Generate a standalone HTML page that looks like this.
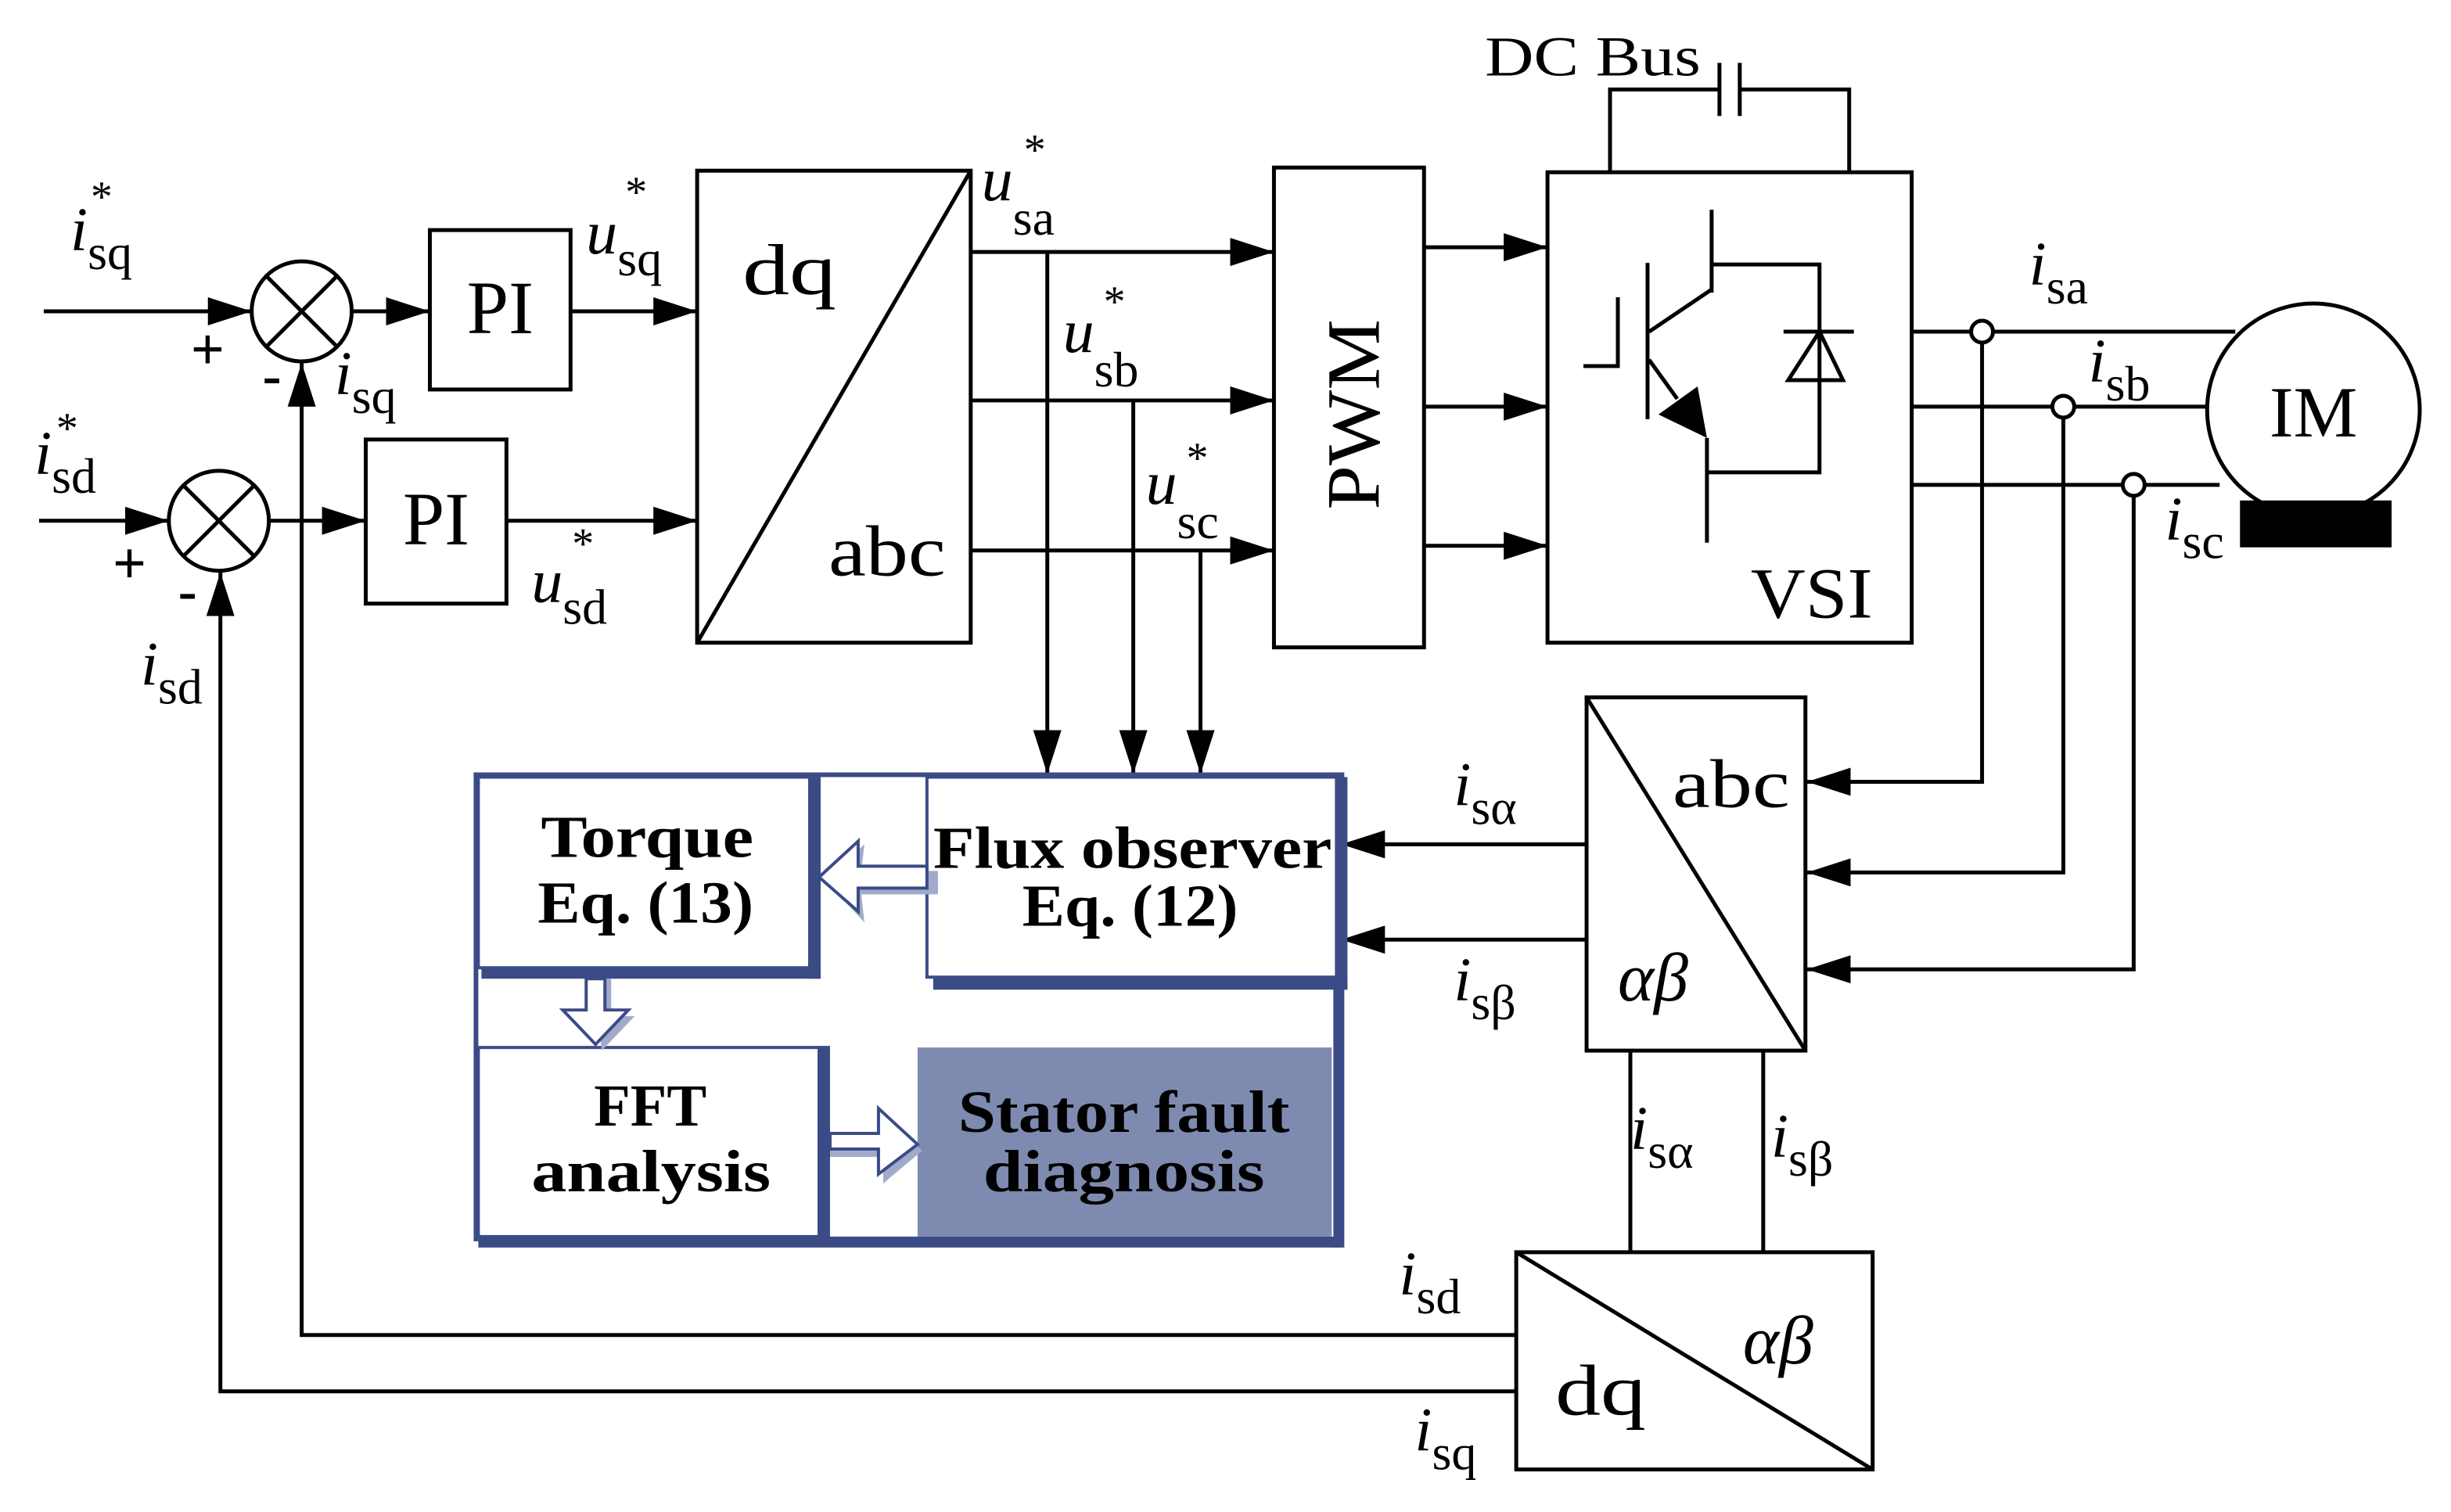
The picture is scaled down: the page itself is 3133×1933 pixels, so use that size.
<!DOCTYPE html>
<html><head><meta charset="utf-8"><style>
html,body{margin:0;padding:0;background:#fff;}
svg{display:block;}
text{font-family:"Liberation Serif",serif;fill:#000;}
.it{font-style:italic;}
</style></head><body>
<svg width="3133" height="1933" viewBox="0 0 1568 967" xmlns="http://www.w3.org/2000/svg">
<defs>
<marker id="a" markerWidth="30" markerHeight="18" refX="28" refY="9" orient="auto" markerUnits="userSpaceOnUse">
<path d="M0,0 L28,9 L0,18 Z" fill="#000"/></marker>
</defs>
<g stroke="#000" stroke-width="2.5" fill="none">
<circle cx="193" cy="199" r="32" fill="#fff"/>
<line x1="170" y1="176" x2="216" y2="222"/><line x1="216" y1="176" x2="170" y2="222"/>
<line x1="28" y1="199" x2="161" y2="199" marker-end="url(#a)"/>
<line x1="225" y1="199" x2="275" y2="199" marker-end="url(#a)"/>
<rect x="275" y="147" width="90" height="102"/>
<line x1="365" y1="199" x2="446" y2="199" marker-end="url(#a)"/>
<circle cx="140" cy="333" r="32" fill="#fff"/>
<line x1="117" y1="310" x2="163" y2="356"/><line x1="163" y1="310" x2="117" y2="356"/>
<line x1="25" y1="333" x2="108" y2="333" marker-end="url(#a)"/>
<line x1="172" y1="333" x2="234" y2="333" marker-end="url(#a)"/>
<rect x="234" y="281" width="90" height="105"/>
<line x1="324" y1="333" x2="446" y2="333" marker-end="url(#a)"/>
<rect x="446" y="109" width="175" height="302"/>
<line x1="446" y1="411" x2="621" y2="109"/>
<line x1="621" y1="161" x2="815" y2="161" marker-end="url(#a)"/>
<line x1="621" y1="256" x2="815" y2="256" marker-end="url(#a)"/>
<line x1="621" y1="352" x2="815" y2="352" marker-end="url(#a)"/>
<line x1="670" y1="161" x2="670" y2="495" marker-end="url(#a)"/>
<line x1="725" y1="256" x2="725" y2="495" marker-end="url(#a)"/>
<line x1="768" y1="352" x2="768" y2="495" marker-end="url(#a)"/>
<rect x="815" y="107" width="96" height="307"/>
<line x1="911" y1="158" x2="990" y2="158" marker-end="url(#a)"/>
<line x1="911" y1="260" x2="990" y2="260" marker-end="url(#a)"/>
<line x1="911" y1="349" x2="990" y2="349" marker-end="url(#a)"/>
<rect x="990" y="110" width="233" height="301"/>
<polyline points="1030,110 1030,57 1100,57"/>
<line x1="1100" y1="40" x2="1100" y2="74"/><line x1="1113" y1="40" x2="1113" y2="74"/>
<polyline points="1113,57 1183,57 1183,110"/>
<line x1="1095" y1="134" x2="1095" y2="187"/>
<line x1="1054" y1="168" x2="1054" y2="268"/>
<polyline points="1035,190 1035,234 1013,234"/>
<line x1="1055" y1="212" x2="1095" y2="185"/>
<line x1="1055" y1="230" x2="1073" y2="255"/>
<polyline points="1095,169 1164,169 1164,302 1092,302"/>
<line x1="1092" y1="280" x2="1092" y2="347"/>
<line x1="1141" y1="212" x2="1186" y2="212"/>
<polygon points="1164,212 1144,243 1179,243"/>
<line x1="1223" y1="212" x2="1430" y2="212"/>
<line x1="1223" y1="260" x2="1412" y2="260"/>
<line x1="1223" y1="310" x2="1420" y2="310"/>
<circle cx="1268" cy="212" r="7" fill="#fff"/>
<circle cx="1320" cy="260" r="7" fill="#fff"/>
<circle cx="1365" cy="310" r="7" fill="#fff"/>
<polyline points="1268,219 1268,500 1156,500" marker-end="url(#a)"/>
<polyline points="1320,267 1320,558 1156,558" marker-end="url(#a)"/>
<polyline points="1365,317 1365,620 1156,620" marker-end="url(#a)"/>
<circle cx="1480" cy="262" r="68" fill="#fff"/>
<rect x="1015" y="446" width="140" height="226"/>
<line x1="1015" y1="446" x2="1155" y2="672"/>
<line x1="1015" y1="540" x2="858" y2="540" marker-end="url(#a)"/>
<line x1="1015" y1="601" x2="858" y2="601" marker-end="url(#a)"/>
<line x1="1043" y1="672" x2="1043" y2="801"/>
<line x1="1128" y1="672" x2="1128" y2="801"/>
<rect x="970" y="801" width="228" height="139"/>
<line x1="970" y1="801" x2="1198" y2="940"/>
<polyline points="970,854 193,854 193,232" marker-end="url(#a)"/>
<polyline points="970,890 141,890 141,366" marker-end="url(#a)"/>
</g>
<polygon points="1061,265 1086,247 1092,280" fill="#000"/>
<rect x="1433" y="320" width="97" height="30" fill="#000"/>

<g fill="#3b4b86">
<rect x="303" y="494" width="555" height="3"/>
<rect x="303" y="494" width="3" height="300"/>
<rect x="306" y="791" width="552" height="7"/>
<rect x="853" y="494" width="7" height="304"/>
<rect x="308" y="619" width="217" height="7"/>
<rect x="518" y="497" width="7" height="129"/>
<rect x="597" y="625" width="265" height="8"/>
<rect x="855" y="497" width="7" height="136"/>
<rect x="524" y="669" width="7" height="125"/>
</g>
<g fill="#fff" stroke="#3b4b86" stroke-width="2">
<rect x="306" y="497" width="212" height="122"/>
<rect x="593" y="497" width="262" height="128"/>
<rect x="306" y="670" width="218" height="121"/>
</g>
<rect x="587" y="670" width="265" height="121" fill="#7f8ab0"/>
<polygon points="528,563 553,540 551,557 600,557 600,572 551,572 553,590" fill="#a2aacb"/>
<polygon points="524,561 549,538 549,554 593,554 593,568 549,568 549,583" fill="#fff" stroke="#3b4b86" stroke-width="2"/>
<polygon points="379,626 391,626 391,650 406,650 385,672" fill="#a2aacb"/>
<polygon points="375,626 387,626 387,646 402,646 381,668 360,646 375,646" fill="#fff" stroke="#3b4b86" stroke-width="2"/>
<polygon points="531,729 562,729 562,714 590,736 565,757 565,740 531,740" fill="#a2aacb"/>
<polygon points="531,725 562,725 562,709 587,732 562,751 562,735 531,735" fill="#fff" stroke="#3b4b86" stroke-width="2"/>

<g font-weight="bold" font-size="38">
<text x="346" y="548" textLength="136" lengthAdjust="spacingAndGlyphs">Torque</text>
<text x="344" y="590" textLength="138" lengthAdjust="spacingAndGlyphs">Eq. (13)</text>
<text x="597" y="555" textLength="255" lengthAdjust="spacingAndGlyphs">Flux observer</text>
<text x="654" y="592" textLength="138" lengthAdjust="spacingAndGlyphs">Eq. (12)</text>
<text x="380" y="720" textLength="72" lengthAdjust="spacingAndGlyphs">FFT</text>
<text x="340" y="762" textLength="153" lengthAdjust="spacingAndGlyphs">analysis</text>
<text x="613" y="724" fill="#111" textLength="212" lengthAdjust="spacingAndGlyphs">Stator fault</text>
<text x="629" y="762" fill="#111" textLength="180" lengthAdjust="spacingAndGlyphs">diagnosis</text>
</g>

<text x="320" y="213" font-size="48" text-anchor="middle">PI</text>
<text x="279" y="348" font-size="48" text-anchor="middle">PI</text>
<text x="475" y="188" font-size="46" textLength="60" lengthAdjust="spacingAndGlyphs">dq</text>
<text x="530" y="368" font-size="46" textLength="75" lengthAdjust="spacingAndGlyphs">abc</text>
<text x="1070" y="516" font-size="44" textLength="75" lengthAdjust="spacingAndGlyphs">abc</text>
<text x="1035" y="640" font-size="44" class="it">αβ</text>
<text x="1115" y="872" font-size="44" class="it">αβ</text>
<text x="995" y="905" font-size="46" textLength="58" lengthAdjust="spacingAndGlyphs">dq</text>
<text x="1120" y="395" font-size="46" textLength="78" lengthAdjust="spacingAndGlyphs">VSI</text>
<text x="1480" y="279" font-size="46" text-anchor="middle">IM</text>
<text x="950" y="48" font-size="36" textLength="138" lengthAdjust="spacingAndGlyphs">DC Bus</text>
<text transform="translate(882,265) rotate(-90)" font-size="48" text-anchor="middle" textLength="122" lengthAdjust="spacingAndGlyphs">PWM</text>

<text x="122" y="236" font-size="38" font-weight="bold">+</text>
<text x="168" y="252" font-size="36" font-weight="bold">-</text>
<text x="72" y="373" font-size="38" font-weight="bold">+</text>
<text x="114" y="390" font-size="36" font-weight="bold">-</text>

<g font-size="40">
<text x="45" y="160"><tspan class="it">i</tspan><tspan font-size="32" dy="12">sq</tspan></text>
<text x="58" y="135" font-size="28">*</text>
<text x="22" y="303"><tspan class="it">i</tspan><tspan font-size="32" dy="12">sd</tspan></text>
<text x="36" y="283" font-size="28">*</text>
<text x="214" y="252"><tspan class="it">i</tspan><tspan font-size="32" dy="12">sq</tspan></text>
<text x="90" y="438"><tspan class="it">i</tspan><tspan font-size="32" dy="12">sd</tspan></text>
<text x="375" y="162"><tspan class="it">u</tspan><tspan font-size="32" dy="14">sq</tspan></text>
<text x="400" y="132" font-size="28">*</text>
<text x="340" y="385"><tspan class="it">u</tspan><tspan font-size="32" dy="14">sd</tspan></text>
<text x="366" y="357" font-size="28">*</text>
<text x="628" y="128"><tspan class="it">u</tspan><tspan font-size="32" dy="22">sa</tspan></text>
<text x="655" y="105" font-size="28">*</text>
<text x="680" y="225"><tspan class="it">u</tspan><tspan font-size="32" dy="22">sb</tspan></text>
<text x="706" y="202" font-size="28">*</text>
<text x="733" y="322"><tspan class="it">u</tspan><tspan font-size="32" dy="22">sc</tspan></text>
<text x="759" y="302" font-size="28">*</text>
<text x="1298" y="182"><tspan class="it">i</tspan><tspan font-size="32" dy="12">sa</tspan></text>
<text x="1336" y="244"><tspan class="it">i</tspan><tspan font-size="32" dy="12">sb</tspan></text>
<text x="1385" y="345"><tspan class="it">i</tspan><tspan font-size="32" dy="12">sc</tspan></text>
<text x="930" y="515"><tspan class="it">i</tspan><tspan font-size="32" dy="12">sα</tspan></text>
<text x="930" y="640"><tspan class="it">i</tspan><tspan font-size="32" dy="12">sβ</tspan></text>
<text x="1043" y="735"><tspan class="it">i</tspan><tspan font-size="32" dy="12">sα</tspan></text>
<text x="1133" y="740"><tspan class="it">i</tspan><tspan font-size="32" dy="12">sβ</tspan></text>
<text x="895" y="828"><tspan class="it">i</tspan><tspan font-size="32" dy="12">sd</tspan></text>
<text x="905" y="928"><tspan class="it">i</tspan><tspan font-size="32" dy="12">sq</tspan></text>
</g>
</svg>
</body></html>
